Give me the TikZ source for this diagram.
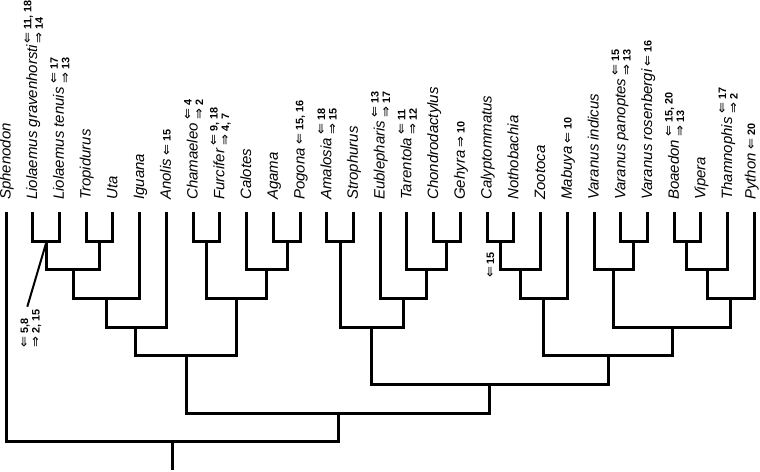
\documentclass[tikz,border=0pt]{standalone}
\usepackage{fontspec}
\setmainfont{Liberation Sans}
\newfontfamily\arrowfont{DejaVu Sans}
\usetikzlibrary{calc}
\newcommand{\ArrL}{{\mdseries\arrowfont\fontsize{13}{11.5}\selectfont ⇐}}
\newcommand{\ArrR}{{\mdseries\arrowfont\fontsize{13}{11.5}\selectfont ⇒}}
\begin{document}
\begin{tikzpicture}[x=1pt,y=-1pt,
  branch/.style={line width=3pt, line join=miter},
  pointer/.style={line width=2pt},
  taxon/.style={rotate=90, anchor=base west, inner sep=0pt, font=\fontsize{15}{18}\selectfont\itshape},
  note/.style={rotate=90, anchor=west, inner sep=0pt, align=left, font=\fontsize{10.8}{11.5}\selectfont\bfseries},
]
\useasboundingbox (0,0) rectangle (760,471);

% tips and labels
\foreach \nm [count=\i from 0] in {Sphenodon,Liolaemus gravenhorsti,Liolaemus tenuis,Tropidurus,Uta,Iguana,Anolis,Chamaeleo,Furcifer,Calotes,Agama,Pogona,Amalosia,Strophurus,Eublepharis,Tarentola,Chondrodactylus,Gehyra,Calyptommatus,Nothobachia,Zootoca,Mabuya,Varanus indicus,Varanus panoptes,Varanus rosenbergi,Boaedon,Vipera,Thamnophis,Python}{
  \coordinate (t\i) at ({6+26.73*\i},212);
  \node[taxon] (L\i) at ({min(10.5+26.73*\i,755.5)},200) {\nm};
}

% annotations
\newcommand{\notefor}[2]{\node[note] (N#1) at ($(L#1.base east)+(-4,-3)$) {#2};}
\node[note] (N1) at ($(L1.base east)+(-4,-1)$) {\ArrL\ 11, 18\\\ArrR\ 14};
\notefor{2}{\ArrL\ 17\\\ArrR\ 13}
\notefor{6}{\ArrL\ 15}
\notefor{7}{\ArrL\ 4\\\ArrR\ 2}
\notefor{8}{\ArrL\ 9, 18\\\ArrR\ 4, 7}
\notefor{11}{\ArrL\ 15, 16}
\notefor{12}{\ArrL\ 18\\\ArrR\ 15}
\notefor{14}{\ArrL\ 13\\\ArrR\ 17}
\notefor{15}{\ArrL\ 11\\\ArrR\ 12}
\notefor{17}{\ArrR\ 10}
\notefor{21}{\ArrL\ 10}
\notefor{23}{\ArrL\ 15\\\ArrR\ 13}
\notefor{24}{\ArrL\ 16}
\notefor{25}{\ArrL\ 15, 20\\\ArrR\ 13}
\notefor{27}{\ArrL\ 17\\\ArrR\ 2}
\notefor{28}{\ArrL\ 20}

% internal nodes
\coordinate (a1) at (46.7,241);
\coordinate (a2) at (99.3,241);
\coordinate (a3) at (73,269.5);
\coordinate (a4) at (106,298);
\coordinate (a5) at (135.9,327);
\coordinate (b1) at (206.5,241);
\coordinate (b2) at (287,241);
\coordinate (b3) at (266.8,269.5);
\coordinate (b4) at (236.7,298);
\coordinate (c1) at (186.3,355.5);
\coordinate (g1) at (340,241);
\coordinate (g2) at (446.5,241);
\coordinate (g3) at (426.6,269.5);
\coordinate (g4) at (403.3,298);
\coordinate (g5) at (371.7,327);
\coordinate (s1) at (500,241);
\coordinate (s2) at (520.3,269.5);
\coordinate (s3) at (543.7,298);
\coordinate (v1) at (633.7,241);
\coordinate (v2) at (613.9,269.5);
\coordinate (k1) at (686.9,241);
\coordinate (k2) at (707,269.5);
\coordinate (k3) at (730.8,298);
\coordinate (v3) at (672.4,327);
\coordinate (s4) at (608,355.5);
\coordinate (s5) at (489.9,384);
\coordinate (r1) at (338.1,413);
\coordinate (r0) at (172,441.5);
\coordinate (rb) at (172,470);

% branches
\draw[branch] (t1) |- (a1) -| (t2);
\draw[branch] (t3) |- (a2) -| (t4);
\draw[branch] (a1) |- (a3) -| (a2);
\draw[branch] (a3) |- (a4) -| (t5);
\draw[branch] (a4) |- (a5) -| (t6);
\draw[branch] (t7) |- (b1) -| (t8);
\draw[branch] (t10) |- (b2) -| (t11);
\draw[branch] (t9) |- (b3) -| (b2);
\draw[branch] (b1) |- (b4) -| (b3);
\draw[branch] (a5) |- (c1) -| (b4);
\draw[branch] (t12) |- (g1) -| (t13);
\draw[branch] (t16) |- (g2) -| (t17);
\draw[branch] (t15) |- (g3) -| (g2);
\draw[branch] (t14) |- (g4) -| (g3);
\draw[branch] (g1) |- (g5) -| (g4);
\draw[branch] (t18) |- (s1) -| (t19);
\draw[branch] (s1) |- (s2) -| (t20);
\draw[branch] (s2) |- (s3) -| (t21);
\draw[branch] (t23) |- (v1) -| (t24);
\draw[branch] (t22) |- (v2) -| (v1);
\draw[branch] (t25) |- (k1) -| (t26);
\draw[branch] (k1) |- (k2) -| (t27);
\draw[branch] (k2) |- (k3) -| (t28);
\draw[branch] (v2) |- (v3) -| (k3);
\draw[branch] (s3) |- (s4) -| (v3);
\draw[branch] (g5) |- (s5) -| (s4);
\draw[branch] (c1) |- (r1) -| (s5);
\draw[branch] (t0) |- (r0) -| (r1);
\draw[branch] (r0) -- (rb);

% branch notes
\node[note, anchor=center] (cal) at (490.5,265) {\ArrL\ 15};
\coordinate (lp) at (27.3,306.7);
\draw[pointer] (a1) -- (lp);
\node[note] (lio) at (31,348) {\ArrL\ 5,8\\\ArrR\ 2, 15};
\end{tikzpicture}
\end{document}
